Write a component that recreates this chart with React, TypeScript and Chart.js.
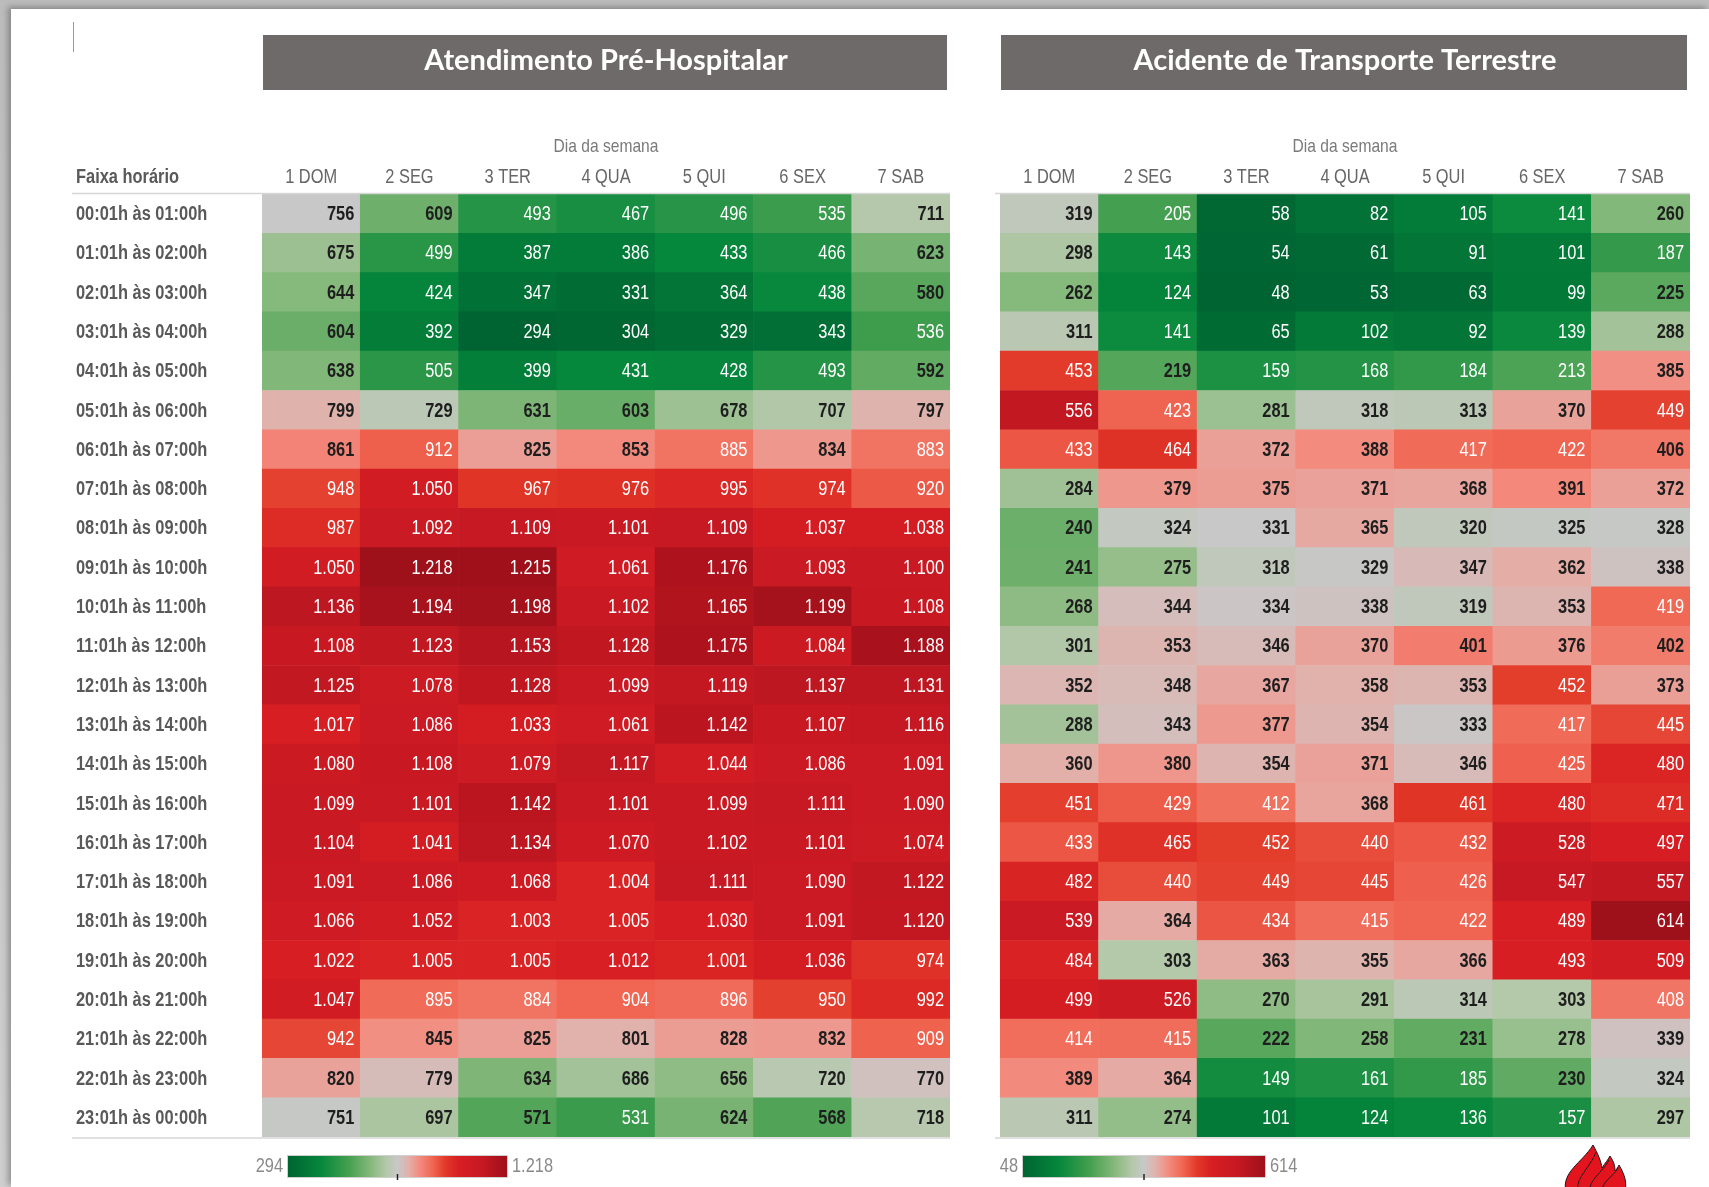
import React, { useEffect, useRef } from 'react';
import { Chart, registerables } from 'chart.js';

Chart.register(...registerables);

const days = ['1 DOM', '2 SEG', '3 TER', '4 QUA', '5 QUI', '6 SEX', '7 SAB'];
const hourBands = [
  '00:01h às 01:00h', '01:01h às 02:00h', '02:01h às 03:00h', '03:01h às 04:00h',
  '04:01h às 05:00h', '05:01h às 06:00h', '06:01h às 07:00h', '07:01h às 08:00h',
  '08:01h às 09:00h', '09:01h às 10:00h', '10:01h às 11:00h', '11:01h às 12:00h',
  '12:01h às 13:00h', '13:01h às 14:00h', '14:01h às 15:00h', '15:01h às 16:00h',
  '16:01h às 17:00h', '17:01h às 18:00h', '18:01h às 19:00h', '19:01h às 20:00h',
  '20:01h às 21:00h', '21:01h às 22:00h', '22:01h às 23:00h', '23:01h às 00:00h',
];

// Atendimento Pré-Hospitalar (one array per weekday, rows = hour bands)
const aphDom = [756, 675, 644, 604, 638, 799, 861, 948, 987, 1050, 1136, 1108, 1125, 1017, 1080, 1099, 1104, 1091, 1066, 1022, 1047, 942, 820, 751];
const aphSeg = [609, 499, 424, 392, 505, 729, 912, 1050, 1092, 1218, 1194, 1123, 1078, 1086, 1108, 1101, 1041, 1086, 1052, 1005, 895, 845, 779, 697];
const aphTer = [493, 387, 347, 294, 399, 631, 825, 967, 1109, 1215, 1198, 1153, 1128, 1033, 1079, 1142, 1134, 1068, 1003, 1005, 884, 825, 634, 571];
const aphQua = [467, 386, 331, 304, 431, 603, 853, 976, 1101, 1061, 1102, 1128, 1099, 1061, 1117, 1101, 1070, 1004, 1005, 1012, 904, 801, 686, 531];
const aphQui = [496, 433, 364, 329, 428, 678, 885, 995, 1109, 1176, 1165, 1175, 1119, 1142, 1044, 1099, 1102, 1111, 1030, 1001, 896, 828, 656, 624];
const aphSex = [535, 466, 438, 343, 493, 707, 834, 974, 1037, 1093, 1199, 1084, 1137, 1107, 1086, 1111, 1101, 1090, 1091, 1036, 950, 832, 720, 568];
const aphSab = [711, 623, 580, 536, 592, 797, 883, 920, 1038, 1100, 1108, 1188, 1131, 1116, 1091, 1090, 1074, 1122, 1120, 974, 992, 909, 770, 718];

// Acidente de Transporte Terrestre
const attDom = [319, 298, 262, 311, 453, 556, 433, 284, 240, 241, 268, 301, 352, 288, 360, 451, 433, 482, 539, 484, 499, 414, 389, 311];
const attSeg = [205, 143, 124, 141, 219, 423, 464, 379, 324, 275, 344, 353, 348, 343, 380, 429, 465, 440, 364, 303, 526, 415, 364, 274];
const attTer = [58, 54, 48, 65, 159, 281, 372, 375, 331, 318, 334, 346, 367, 377, 354, 412, 452, 449, 434, 363, 270, 222, 149, 101];
const attQua = [82, 61, 53, 102, 168, 318, 388, 371, 365, 329, 338, 370, 358, 354, 371, 368, 440, 445, 415, 355, 291, 258, 161, 124];
const attQui = [105, 91, 63, 92, 184, 313, 417, 368, 320, 347, 319, 401, 353, 333, 346, 461, 432, 426, 422, 366, 314, 231, 185, 136];
const attSex = [141, 101, 99, 139, 213, 370, 422, 391, 325, 362, 353, 376, 452, 417, 425, 480, 528, 547, 489, 493, 303, 278, 230, 157];
const attSab = [260, 187, 225, 288, 385, 449, 406, 372, 328, 338, 419, 402, 373, 445, 480, 471, 497, 557, 614, 509, 408, 339, 324, 297];

const aphColumns = [aphDom, aphSeg, aphTer, aphQua, aphQui, aphSex, aphSab];
const attColumns = [attDom, attSeg, attTer, attQua, attQui, attSex, attSab];

const SANS = '"Liberation Sans", Arial, sans-serif';
const NARROW_X = 0.82; // Arial -> Arial Narrow horizontal ratio
const TITLE_FONT = 'Lato, "Open Sans", sans-serif';

const STOPS: [number, number, number, number][] = [
  [0.0, 0, 100, 50],
  [0.15, 5, 135, 60],
  [0.28, 70, 160, 80],
  [0.38, 135, 185, 125],
  [0.45, 180, 200, 170],
  [0.5, 200, 200, 200],
  [0.55, 226, 176, 170],
  [0.6, 243, 140, 128],
  [0.66, 240, 102, 82],
  [0.72, 226, 56, 40],
  [0.78, 215, 30, 35],
  [0.88, 200, 25, 35],
  [1.0, 158, 16, 26],
];

function colorAt(t: number): string {
  const v = Math.max(0, Math.min(1, t));
  for (let i = 1; i < STOPS.length; i++) {
    const a = STOPS[i - 1];
    const b = STOPS[i];
    if (v <= b[0]) {
      const f = (v - a[0]) / (b[0] - a[0]);
      const r = Math.round(a[1] + (b[1] - a[1]) * f);
      const g = Math.round(a[2] + (b[2] - a[2]) * f);
      const bl = Math.round(a[3] + (b[3] - a[3]) * f);
      return `rgb(${r},${g},${bl})`;
    }
  }
  const l = STOPS[STOPS.length - 1];
  return `rgb(${l[1]},${l[2]},${l[3]})`;
}

function isLightText(t: number): boolean {
  return t < 0.295 || t > 0.633;
}

function fmt(v: number): string {
  if (v >= 1000) return Math.floor(v / 1000) + '.' + String(v % 1000).padStart(3, '0');
  return String(v);
}

function narrowText(
  ctx: CanvasRenderingContext2D,
  text: string,
  x: number,
  y: number,
  align: CanvasTextAlign,
  font: string,
  color: string
) {
  ctx.save();
  ctx.font = font;
  ctx.fillStyle = color;
  ctx.textAlign = align;
  ctx.textBaseline = 'middle';
  ctx.translate(x, y);
  ctx.scale(NARROW_X, 1);
  ctx.fillText(text, 0, 0);
  ctx.restore();
}

type Cell = { x: [number, number]; y: string; v: number };

interface PanelCfg {
  title: string;
  columns: number[][];
  showRowLabels: boolean;
  padLeft: number;
  padRight: number;
  legOffset: number;
  legWidth: number;
  lineStart: number;
  drawLogo: boolean;
  drawMark: boolean;
}

function buildChart(canvas: HTMLCanvasElement, cfg: PanelCfg): Chart {
  const cells: Cell[] = [];
  cfg.columns.forEach((col, c) => {
    col.forEach((v, r) => {
      cells.push({ x: [c, c + 1], y: hourBands[r], v });
    });
  });
  const all = cells.map((d) => d.v);
  const min = Math.min(...all);
  const max = Math.max(...all);
  const tOf = (v: number) => (v - min) / (max - min);

  const decor = {
    id: 'decor',
    beforeDraw(chart: any) {
      const { ctx, chartArea } = chart;
      ctx.save();
      ctx.fillStyle = '#6e6a69';
      ctx.fillRect(chartArea.left + 1, 35, chartArea.right - chartArea.left - 4, 55);
      ctx.fillStyle = '#ffffff';
      ctx.font = `bold 29px ${TITLE_FONT}`;
      ctx.textAlign = 'center';
      ctx.textBaseline = 'middle';
      ctx.fillText(cfg.title, (chartArea.left + chartArea.right) / 2, 61);
      ctx.restore();
    },
    afterDatasetsDraw(chart: any) {
      const { ctx } = chart;
      const meta = chart.getDatasetMeta(0);
      const data = chart.data.datasets[0].data as Cell[];
      meta.data.forEach((el: any, i: number) => {
        const p = el.getProps(['x', 'base', 'y'], true);
        const right = Math.max(p.x, p.base);
        const light = isLightText(tOf(data[i].v));
        narrowText(
          ctx,
          fmt(data[i].v),
          right - 6,
          p.y + 1,
          'right',
          light ? `20px ${SANS}` : `bold 20px ${SANS}`,
          light ? '#ffffff' : '#1e1e1e'
        );
      });
    },
    afterDraw(chart: any) {
      const { ctx, chartArea } = chart;
      const xs = chart.scales.x2;
      const ys = chart.scales.y;

      // "Dia da semana" and weekday headers (positioned by the top category scale)
      narrowText(ctx, 'Dia da semana', (chartArea.left + chartArea.right) / 2, 147, 'center', `19px ${SANS}`, '#7a7a7a');
      days.forEach((d, i) => {
        narrowText(ctx, d, xs.getPixelForValue(i), 177, 'center', `20px ${SANS}`, '#666666');
      });

      if (cfg.showRowLabels) {
        narrowText(ctx, 'Faixa horário', 76, 177, 'left', `bold 20px ${SANS}`, '#595959');
        hourBands.forEach((h, i) => {
          narrowText(ctx, h, 76, ys.getPixelForValue(i) + 1, 'left', `bold 20px ${SANS}`, '#595959');
        });
      }

      ctx.save();
      // header / footer rules
      ctx.strokeStyle = '#d6d6d6';
      ctx.lineWidth = 1.5;
      ctx.beginPath();
      ctx.moveTo(cfg.lineStart, chartArea.top - 0.5);
      ctx.lineTo(chartArea.right, chartArea.top - 0.5);
      ctx.moveTo(cfg.lineStart, chartArea.bottom + 1);
      ctx.lineTo(chartArea.right, chartArea.bottom + 1);
      ctx.stroke();

      if (cfg.drawMark) {
        ctx.strokeStyle = '#9a9a9a';
        ctx.lineWidth = 1;
        ctx.beginPath();
        ctx.moveTo(73.5, 22);
        ctx.lineTo(73.5, 52);
        ctx.stroke();
      }

      // colour legend
      const lx = chartArea.left + cfg.legOffset;
      const ly = chartArea.bottom + 19;
      const lw = cfg.legWidth;
      const lh = 21;
      const grad = ctx.createLinearGradient(lx, 0, lx + lw, 0);
      STOPS.forEach((s) => grad.addColorStop(s[0], `rgb(${s[1]},${s[2]},${s[3]})`));
      ctx.fillStyle = grad;
      ctx.fillRect(lx, ly, lw, lh);
      ctx.strokeStyle = '#cfcfcf';
      ctx.lineWidth = 1;
      ctx.strokeRect(lx - 0.5, ly - 0.5, lw + 1, lh + 1);
      ctx.strokeStyle = '#222';
      ctx.lineWidth = 1.5;
      ctx.beginPath();
      ctx.moveTo(lx + lw / 2, ly + lh - 3);
      ctx.lineTo(lx + lw / 2, ly + lh + 3);
      ctx.stroke();
      ctx.restore();
      narrowText(ctx, fmt(min), lx - 5, ly + lh / 2, 'right', `20px ${SANS}`, '#8a8a8a');
      narrowText(ctx, fmt(max), lx + lw + 5, ly + lh / 2, 'left', `20px ${SANS}`, '#8a8a8a');

      if (cfg.drawLogo) {
        ctx.save();
        const ox = -960;
        const P = (x: number, y: number): [number, number] => [x + ox, y];
        ctx.beginPath();
        ctx.moveTo(...P(1566, 1192));
        ctx.bezierCurveTo(...P(1561, 1172), ...P(1582, 1163), ...P(1593, 1145));
        ctx.bezierCurveTo(...P(1598, 1154), ...P(1601, 1161), ...P(1602, 1168));
        ctx.bezierCurveTo(...P(1605, 1163), ...P(1608, 1160), ...P(1610, 1156));
        ctx.bezierCurveTo(...P(1614, 1162), ...P(1615, 1166), ...P(1615, 1171));
        ctx.bezierCurveTo(...P(1617, 1169), ...P(1618, 1167), ...P(1619, 1165));
        ctx.bezierCurveTo(...P(1625, 1175), ...P(1627, 1183), ...P(1625, 1192));
        ctx.closePath();
        ctx.fillStyle = '#e3141d';
        ctx.fill();
        ctx.strokeStyle = '#1a1a1a';
        ctx.lineWidth = 1;
        ctx.stroke();
        ctx.beginPath();
        ctx.moveTo(...P(1578, 1192));
        ctx.bezierCurveTo(...P(1575, 1178), ...P(1590, 1168), ...P(1596, 1152));
        ctx.moveTo(...P(1590, 1192));
        ctx.bezierCurveTo(...P(1588, 1180), ...P(1603, 1172), ...P(1609, 1160));
        ctx.moveTo(...P(1602, 1192));
        ctx.bezierCurveTo(...P(1601, 1182), ...P(1614, 1176), ...P(1618, 1168));
        ctx.stroke();
        ctx.restore();
      }
    },
  };

  return new Chart(canvas, {
    type: 'bar',
    data: {
      labels: hourBands,
      datasets: [
        {
          data: cells as any,
          backgroundColor: (c: any) => colorAt(tOf((c.raw as Cell).v)),
          borderWidth: 0,
          borderSkipped: false,
          barPercentage: 1,
          categoryPercentage: 1,
        },
      ],
    },
    options: {
      indexAxis: 'y',
      animation: false,
      responsive: false,
      maintainAspectRatio: false,
      events: [],
      layout: { padding: { left: cfg.padLeft, right: cfg.padRight, top: 100, bottom: 50 } },
      plugins: {
        legend: { display: false },
        tooltip: { enabled: false },
        title: { display: false },
      },
      scales: {
        x: { type: 'linear', min: 0, max: 7, display: false },
        x2: {
          type: 'category',
          labels: days,
          position: 'top',
          offset: true,
          grid: { display: false, drawTicks: false },
          border: { display: false },
          ticks: { display: false },
          title: { display: false },
          afterFit: (s: any) => {
            s.height = 94;
          },
        },
        y: {
          type: 'category',
          labels: hourBands,
          offset: true,
          display: false,
        },
      } as any,
    },
    plugins: [decor as any],
  });
}

export default function App() {
  const leftRef = useRef<HTMLCanvasElement>(null);
  const rightRef = useRef<HTMLCanvasElement>(null);

  useEffect(() => {
    const charts: Chart[] = [];
    if (leftRef.current) {
      charts.push(
        buildChart(leftRef.current, {
          title: 'Atendimento Pré-Hospitalar',
          columns: aphColumns,
          showRowLabels: true,
          padLeft: 262,
          padRight: 10,
          legOffset: 26,
          legWidth: 219,
          lineStart: 72,
          drawLogo: false,
          drawMark: true,
        })
      );
    }
    if (rightRef.current) {
      charts.push(
        buildChart(rightRef.current, {
          title: 'Acidente de Transporte Terrestre',
          columns: attColumns,
          showRowLabels: false,
          padLeft: 40,
          padRight: 19,
          legOffset: 23,
          legWidth: 242,
          lineStart: 35,
          drawLogo: true,
          drawMark: false,
        })
      );
    }
    return () => charts.forEach((c) => c.destroy());
  }, []);

  return (
    <div
      style={{
        position: 'fixed',
        left: 0,
        top: 0,
        width: 1709,
        height: 1187,
        overflow: 'hidden',
        background: 'linear-gradient(180deg, #bcbcbc 0%, #cfcfcf 100%)',
      }}
    >
      <div
        style={{
          position: 'absolute',
          left: 11,
          top: 9,
          right: 0,
          bottom: 0,
          background: '#ffffff',
          boxShadow: '-3px -2px 6px rgba(0,0,0,0.3)',
        }}
      />
      <canvas
        ref={leftRef}
        width={960}
        height={1187}
        style={{ position: 'absolute', left: 0, top: 0, width: 960, height: 1187 }}
      />
      <canvas
        ref={rightRef}
        width={749}
        height={1187}
        style={{ position: 'absolute', left: 960, top: 0, width: 749, height: 1187 }}
      />
    </div>
  );
}
